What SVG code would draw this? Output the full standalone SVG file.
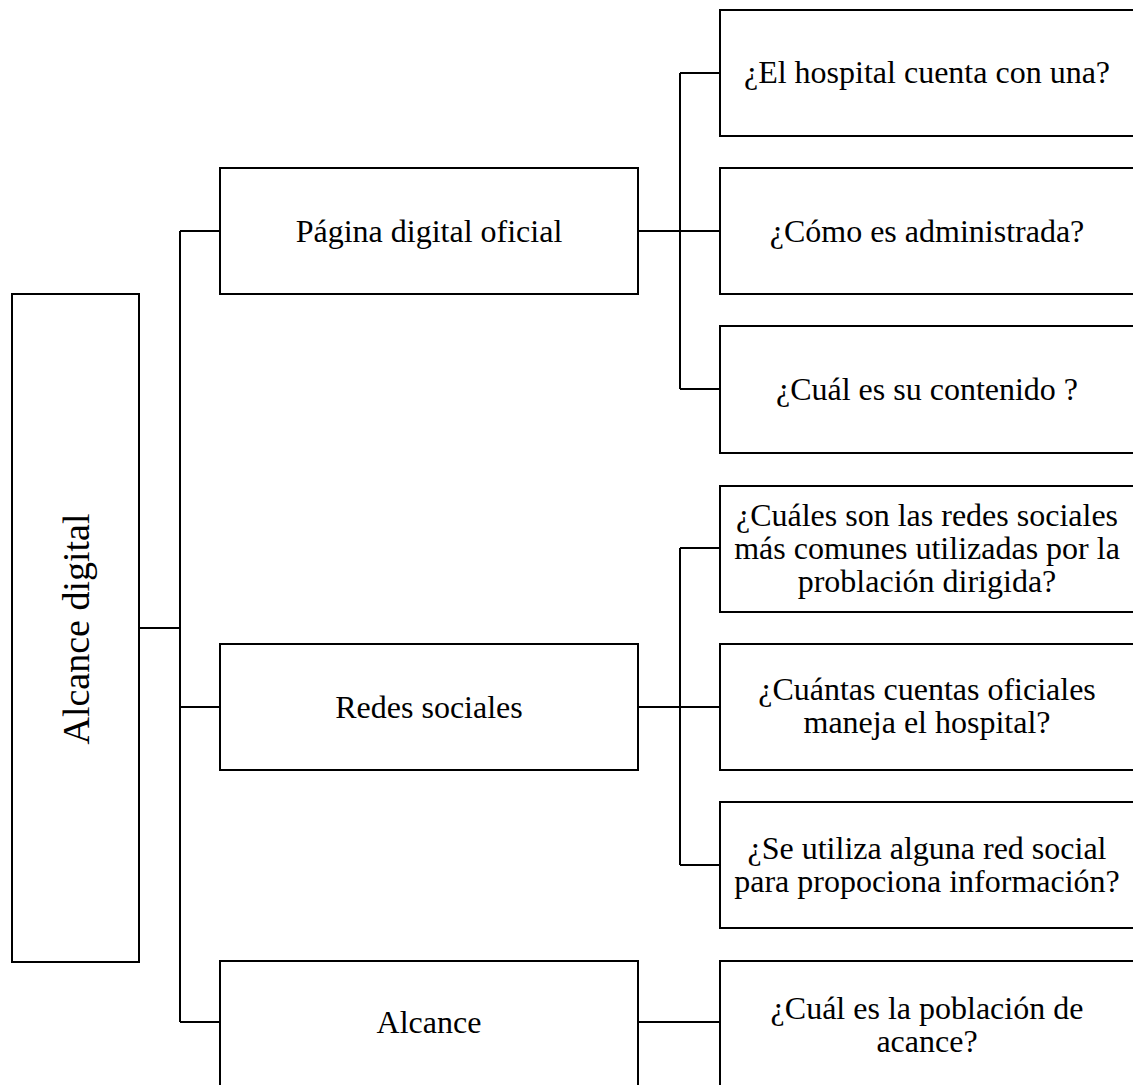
<svg xmlns="http://www.w3.org/2000/svg" width="1133" height="1085" viewBox="0 0 1133 1085">
<style>
.b{fill:#fff;stroke:#000;stroke-width:2}
.c{fill:none;stroke:#000;stroke-width:2}
text{font-family:"Liberation Serif","Times New Roman",serif;font-size:32px;fill:#000;text-anchor:middle}
.r{font-size:38px}
</style>
<rect width="1133" height="1085" fill="#fff"/>
<g id="connectors">
<path class="c" d="M139 628H180M180 231V1022M180 231H220M180 707H220M180 1022H220"/>
<path class="c" d="M638 231H720M680 73V389M680 73H720M680 389H720"/>
<path class="c" d="M638 707H720M680 548V865M680 548H720M680 865H720"/>
<path class="c" d="M638 1022H720"/>
</g>
<g id="root"><rect class="b" x="12" y="294" width="127" height="668"/><text class="r" transform="translate(89 629) rotate(-90)">Alcance digital</text></g>
<g id="pagina"><rect class="b" x="220" y="168" width="418" height="126"/><text x="429" y="242">Página digital oficial</text></g>
<g id="redes"><rect class="b" x="220" y="644" width="418" height="126"/><text x="429" y="718">Redes sociales</text></g>
<g id="alcance"><rect class="b" x="220" y="961" width="418" height="140"/><text x="429" y="1033">Alcance</text></g>
<g id="q1"><rect class="b" x="720" y="10" width="420" height="126"/><text x="927" y="83">¿El hospital cuenta con una?</text></g>
<g id="q2"><rect class="b" x="720" y="168" width="420" height="126"/><text x="927" y="242">¿Cómo es administrada?</text></g>
<g id="q3"><rect class="b" x="720" y="326" width="420" height="127"/><text x="927" y="400">¿Cuál es su contenido ?</text></g>
<g id="q4"><rect class="b" x="720" y="486" width="420" height="126"/><text x="927" y="526">¿Cuáles son las redes sociales</text><text x="927" y="559">más comunes utilizadas por la</text><text x="927" y="592">problación dirigida?</text></g>
<g id="q5"><rect class="b" x="720" y="644" width="420" height="126"/><text x="927" y="700">¿Cuántas cuentas oficiales</text><text x="927" y="733">maneja el hospital?</text></g>
<g id="q6"><rect class="b" x="720" y="802" width="420" height="126"/><text x="927" y="859">¿Se utiliza alguna red social</text><text x="927" y="892">para propociona información?</text></g>
<g id="q7"><rect class="b" x="720" y="961" width="420" height="140"/><text x="927" y="1019">¿Cuál es la población de</text><text x="927" y="1052">acance?</text></g>
</svg>
